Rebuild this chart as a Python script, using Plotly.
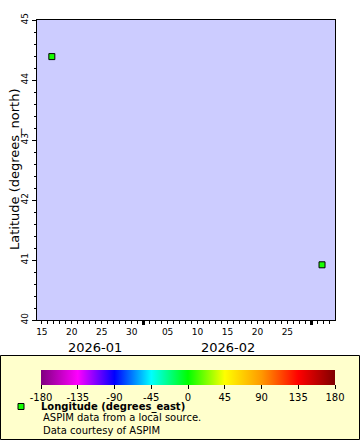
import plotly.graph_objects as go

# data
times = ["2026-01-16 16:00", "2026-03-02 19:00"]
latitudes = [44.39, 40.92]
longitudes = [4.0, 4.0]

x_tick_vals = ["2026-01-15", "2026-01-20", "2026-01-25", "2026-01-30",
               "2026-02-05", "2026-02-10", "2026-02-15", "2026-02-20", "2026-02-25"]
x_tick_text = ["15", "20", "25", "30", "05", "10", "15", "20", "25"]
month_ticks = ["2026-02-01", "2026-03-01"]
month_labels = ["2026-01", "2026-02"]
month_label_pos = ["2026-01-23 20:00", "2026-02-15 04:00"]
y_tick_vals = [40, 41, 42, 43, 44, 45]
cbar_ticks = [-180, -135, -90, -45, 0, 45, 90, 135, 180]
cbar_tick_text = ["-180", "-135", "-90", "-45", "0", "45", "90", "135", "180"]

W, H = 360, 440
L, R, T, B = 37, 25, 20, 120
PW, PH = W - L - R, H - T - B


def px(xp):
    return (xp - L) / PW


def py(yp):
    return (H - B - yp) / PH


rainbow = [[0.0, "#800080"], [0.125, "#ff00ff"], [0.25, "#0000ff"], [0.375, "#00ffff"],
           [0.5, "#00ff00"], [0.625, "#ffff00"], [0.75, "#ff9900"], [0.875, "#ff0000"],
           [1.0, "#800000"]]

FONT = "DejaVu Sans"

fig = go.Figure()
fig.add_trace(go.Scatter(
    x=times, y=latitudes, mode="markers",
    name="<b>Longitude (degrees_east)</b>",
    marker=dict(symbol="square", size=6, color=longitudes, cmin=-180, cmax=180,
                colorscale=rainbow, line=dict(color="black", width=1),
                showscale=True,
                colorbar=dict(orientation="h", x=px(41), xanchor="left",
                              len=(335 - 41) / PW, lenmode="fraction",
                              y=py(370), yanchor="top", thickness=15,
                              xpad=0, ypad=0, outlinewidth=0,
                              tickmode="array", tickvals=cbar_ticks,
                              ticktext=cbar_tick_text, ticks="outside", ticklen=4,
                              tickcolor="black",
                              tickfont=dict(family=FONT, size=10, color="black"))),
    showlegend=True,
))
fig.add_trace(go.Scatter(x=times, y=latitudes, mode="none", xaxis="x2",
                         showlegend=False, hoverinfo="skip"))

fig.update_layout(
    width=W, height=H,
    margin=dict(l=L, r=R, t=T, b=B, autoexpand=False),
    paper_bgcolor="white", plot_bgcolor="#ccccff",
    font=dict(family=FONT, color="black"),
    xaxis=dict(range=["2026-01-14 04:30", "2026-03-04 23:00"], automargin=False,
               tickmode="array", tickvals=x_tick_vals, ticktext=x_tick_text,
               ticks="outside", ticklen=3, tickcolor="black",
               tickfont=dict(size=9), showgrid=False, zeroline=False,
               showline=True, linecolor="black", linewidth=1, mirror=True,
               minor=dict(ticks="outside", dtick=86400000, tick0="2026-01-01",
                          ticklen=3, tickcolor="black", showgrid=False)),
    xaxis2=dict(overlaying="x", matches="x", anchor="y", side="bottom",
                automargin=False,
                tickmode="array", tickvals=month_ticks, showticklabels=False,
                ticks="outside", ticklen=4, tickwidth=3, tickcolor="black",
                showgrid=False, zeroline=False, showline=False),
    yaxis=dict(range=[40, 45], tickvals=y_tick_vals, tickangle=-90, automargin=False,
               ticks="outside", ticklen=4, tickcolor="black",
               tickfont=dict(size=9), showgrid=False, zeroline=False,
               showline=True, linecolor="black", linewidth=1, mirror=True,
               minor=dict(ticks="outside", dtick=0.2, ticklen=2,
                          tickcolor="black", showgrid=False)),
    legend=dict(x=px(1), xanchor="left", y=py(392), yanchor="top",
                bgcolor="rgba(0,0,0,0)", borderwidth=0,
                font=dict(family=FONT, size=10, color="black"),
                itemsizing="trace"),
    showlegend=True,
)

fig.add_shape(type="rect", xref="paper", yref="paper",
              x0=px(0.5), x1=px(359.5), y0=py(439.5), y1=py(355.5),
              fillcolor="#ffffcc", line=dict(color="black", width=1), layer="below")

fig.add_annotation(x=px(14), y=py(170), xref="paper", yref="paper",
                   text="Latitude (degrees_north)", textangle=-90, showarrow=False,
                   xanchor="center", yanchor="middle",
                   font=dict(family=FONT, size=13, color="black"))

for lbl, pos in zip(month_labels, month_label_pos):
    fig.add_annotation(x=pos, y=py(347), xref="x", yref="paper", text=lbl,
                       showarrow=False, font=dict(family=FONT, size=13, color="black"),
                       xanchor="center", yanchor="middle")

fig.add_annotation(x=px(41), y=py(423.5), xref="paper", yref="paper",
                   text="ASPIM data from a local source.<br>Data courtesy of ASPIM",
                   showarrow=False, xanchor="left", yanchor="middle", align="left",
                   font=dict(family=FONT, size=10, color="black"))

fig.write_html("out.html", config={"displayModeBar": False},
               post_script="document.body.style.margin='0';document.body.style.padding='0';")
